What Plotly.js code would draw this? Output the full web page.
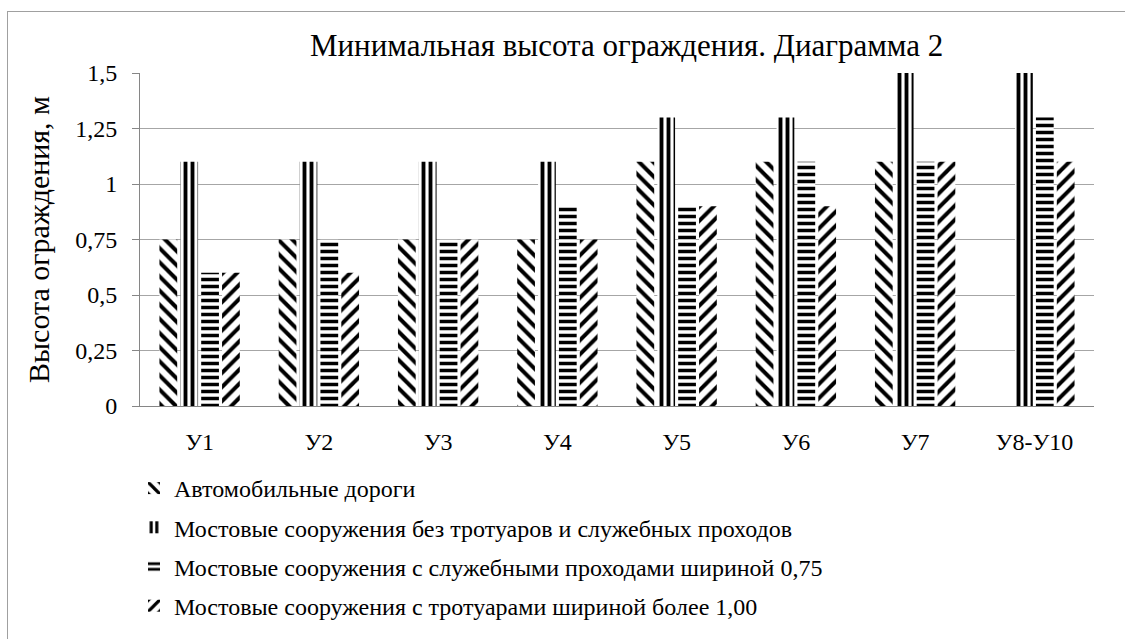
<!DOCTYPE html>
<html><head><meta charset="utf-8">
<script src="https://cdn.plot.ly/plotly-3.0.1.min.js"></script>
</head><body style="margin:0;padding:0;background:#ffffff">
<div style="position:absolute;left:7px;top:11px;width:1130px;height:640px;border-left:1px solid #a0a0a0;border-top:1px solid #a0a0a0;pointer-events:none"></div>
<div id="chart" style="position:absolute;left:0;top:0"></div>
<script>
const categories = ["У1","У2","У3","У4","У5","У6","У7","У8-У10"];
const seriesNames = [
  "Автомобильные дороги",
  "Мостовые сооружения без тротуаров и служебных проходов",
  "Мостовые сооружения с служебными проходами шириной 0,75",
  "Мостовые сооружения с тротуарами шириной более 1,00"
];
const roads      = [0.75, 0.75, 0.75, 0.75, 1.1, 1.1, 1.1, null];
const bridgesNo  = [1.1, 1.1, 1.1, 1.1, 1.3, 1.3, 1.5, 1.5];
const bridges075 = [0.6, 0.75, 0.75, 0.9, 0.9, 1.1, 1.1, 1.3];
const bridges100 = [0.6, 0.6, 0.75, 0.75, 0.9, 0.9, 1.1, 1.1];
const yTickVals  = [0, 0.25, 0.5, 0.75, 1, 1.25, 1.5];
const yTickText  = ["0", "0,25", "0,5", "0,75", "1", "1,25", "1,5"];

const values = [roads, bridgesNo, bridges075, bridges100];
const patterns = [
  {shape: "\\", size: 10, solidity: 0.4},
  {shape: "|", size: 7, solidity: 0.55},
  {shape: "-", size: 7, solidity: 0.5},
  {shape: "/", size: 10, solidity: 0.4}
];
const FF = "Liberation Serif";

const traces = values.map((v, i) => ({
  type: "bar",
  name: seriesNames[i],
  x: categories,
  y: v,
  legendgroup: "g" + i,
  marker: {
    color: "#ffffff",
    line: {width: 0},
    pattern: Object.assign({fgcolor: "#000000", bgcolor: "#ffffff", fillmode: "replace", fgopacity: 1}, patterns[i])
  }
}));

const L = 140, R = 1094, T = 73, B = 407;
const px = x => (x - L) / (R - L);
const py = y => (B - y) / (B - T);

const layout = {
  width: 1125, height: 639,
  margin: {l: L, r: 1125 - R, t: T, b: 639 - B, pad: 0},
  paper_bgcolor: "rgba(0,0,0,0)", plot_bgcolor: "rgba(0,0,0,0)",
  font: {family: FF, size: 24, color: "#000000"},
  title: {text: "Минимальная высота ограждения. Диаграмма 2", font: {family: FF, size: 31, color: "#000000"},
          x: 0.557, xanchor: "center", y: 1 - 45 / 639, yanchor: "middle"},
  barmode: "group", bargap: 0.3, bargroupgap: 0.15,
  xaxis: {
    type: "category", showgrid: false, showline: true, linecolor: "#868686", linewidth: 1,
    ticks: "", tickfont: {family: FF, size: 24, color: "#000000"}, ticklabelstandoff: 14, fixedrange: true
  },
  yaxis: {
    range: [0, 1.5], tickvals: yTickVals, ticktext: yTickText,
    showgrid: true, gridcolor: "#a6a6a6", gridwidth: 1,
    showline: true, linecolor: "#868686", linewidth: 1,
    ticks: "outside", ticklen: 7, tickcolor: "#868686",
    tickfont: {family: FF, size: 24, color: "#000000"}, ticklabelstandoff: 10,
    zeroline: false, fixedrange: true,
    title: {text: "Высота ограждения, м", font: {family: FF, size: 30, color: "#000000"}, standoff: 16}
  },
  showlegend: true,
  legend: {
    x: px(134), y: py(466), xanchor: "left", yanchor: "top",
    orientation: "v", traceorder: "grouped", tracegroupgap: 5,
    font: {family: FF, size: 24, color: "#000000"},
    itemwidth: 30, bgcolor: "rgba(0,0,0,0)"
  }
};

Plotly.newPlot("chart", traces, layout, {displayModeBar: false});
</script></body></html>
